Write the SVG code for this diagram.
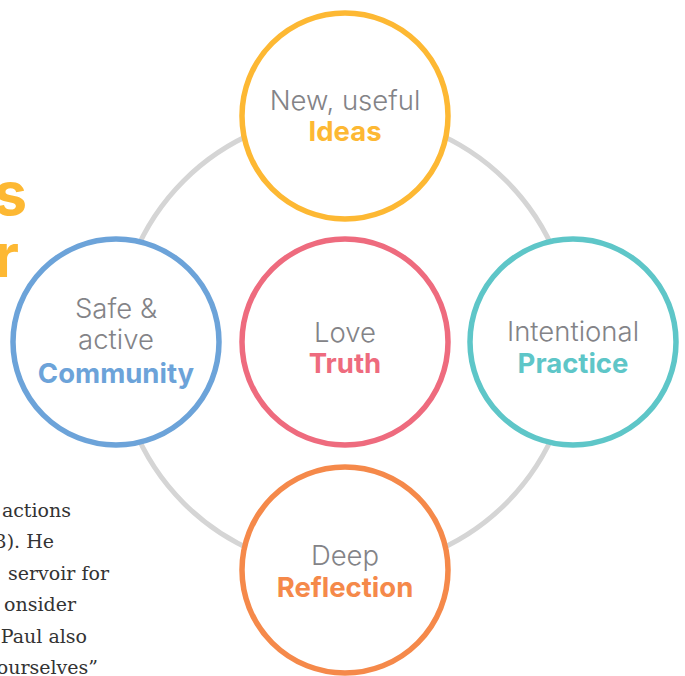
<svg xmlns="http://www.w3.org/2000/svg" width="685" height="676" viewBox="0 0 685 676">
  <style>
    .ring { fill: #ffffff; stroke-width: 5.5; }
    .lead { font-family: Inter, "Open Sans", sans-serif; font-size: 27.5px; font-weight: 300; fill: #838387; text-anchor: middle; }
    .key { font-family: Inter, "Open Sans", sans-serif; font-size: 27.5px; font-weight: 700; text-anchor: middle; }
    .body { font-family: "DejaVu Serif", serif; font-size: 19px; fill: #333333; text-anchor: end; }
    .head { font-family: Inter, "Open Sans", sans-serif; font-size: 60px; font-weight: 700; fill: #fdb833; text-anchor: end; }
  </style>

  <rect width="685" height="676" fill="#ffffff"/>

  <!-- clipped heading and body copy at the left margin -->
  <g id="page-text">
    <text class="head" x="27" y="215">s</text>
    <text class="head" x="19" y="277">r</text>
    <text class="body" x="71" y="517">actions</text>
    <text class="body" x="54" y="548">3). He</text>
    <text class="body" x="109" y="580">servoir for</text>
    <text class="body" x="76" y="611">onsider</text>
    <text class="body" x="87" y="643">Paul also</text>
    <text class="body" x="98" y="674">ourselves”</text>
  </g>

  <!-- ring linking the four outer circles -->
  <g id="connectors">
    <circle cx="345" cy="342" r="228" fill="none" stroke="#d5d5d5" stroke-width="5"/>
  </g>

  <g id="ideas">
    <circle class="ring" cx="345" cy="116" r="103" stroke="#fdb833"/>
    <text class="lead" x="345" y="110">New, useful</text>
    <text class="key" x="345" y="141" fill="#fdb833">Ideas</text>
  </g>

  <g id="community">
    <circle class="ring" cx="116" cy="342" r="103" stroke="#6ca3d9"/>
    <text class="lead" x="116" y="318">Safe &amp;</text>
    <text class="lead" x="116" y="349">active</text>
    <text class="key" x="116" y="383" fill="#6ca3d9">Community</text>
  </g>

  <g id="truth">
    <circle class="ring" cx="345" cy="342" r="103" stroke="#ee6b7e"/>
    <text class="lead" x="345" y="342">Love</text>
    <text class="key" x="345" y="373" fill="#ee6b7e">Truth</text>
  </g>

  <g id="practice">
    <circle class="ring" cx="573" cy="342" r="103" stroke="#5ec6c8"/>
    <text class="lead" x="573" y="341">Intentional</text>
    <text class="key" x="573" y="373" fill="#5ec6c8">Practice</text>
  </g>

  <g id="reflection">
    <circle class="ring" cx="345" cy="570" r="103" stroke="#f5894a"/>
    <text class="lead" x="345" y="565">Deep</text>
    <text class="key" x="345" y="597" fill="#f5894a">Reflection</text>
  </g>
</svg>
